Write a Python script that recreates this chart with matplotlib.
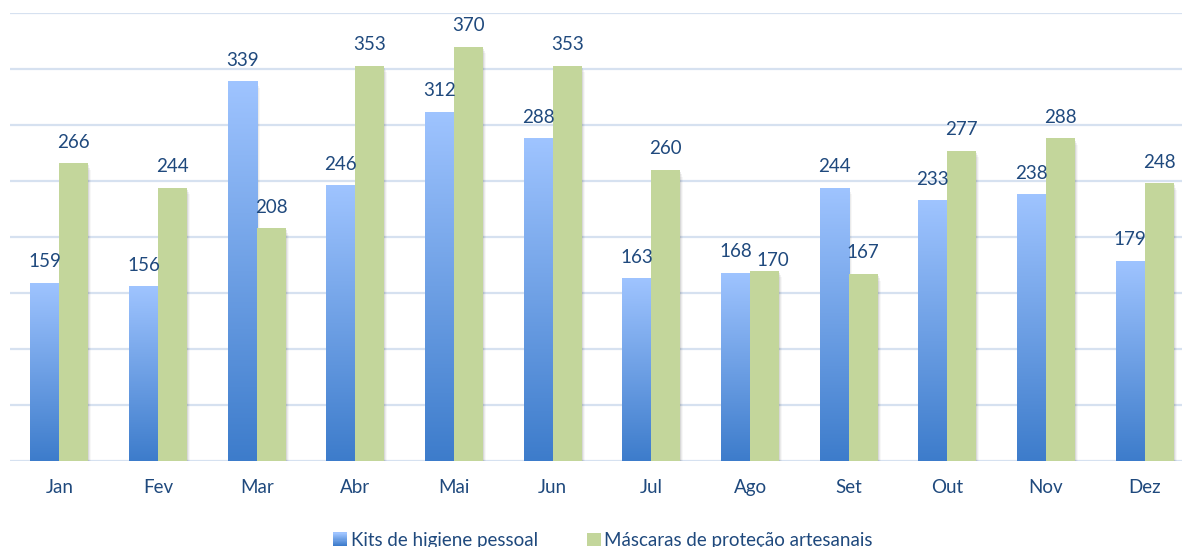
import numpy as np
import matplotlib
matplotlib.use("Agg")
import matplotlib.pyplot as plt
from matplotlib.patches import Rectangle
from matplotlib.legend_handler import HandlerBase
from matplotlib.colors import LinearSegmentedColormap

months = ["Jan", "Fev", "Mar", "Abr", "Mai", "Jun", "Jul", "Ago", "Set", "Out", "Nov", "Dez"]
kits = [159, 156, 339, 246, 312, 288, 163, 168, 244, 233, 238, 179]
mascaras = [266, 244, 208, 353, 370, 353, 260, 170, 167, 277, 288, 248]
series_names = ["Kits de higiene pessoal", "Máscaras de proteção artesanais"]

BLUE_TOP = "#9fc4ff"
BLUE_BOTTOM = "#3d7ccb"
GREEN = "#c3d69b"
TEXT = "#1f497d"
GRID = "#d6e1f0"

plt.rcParams["font.family"] = ["Lato", "DejaVu Sans"]

fig = plt.figure(figsize=(11.82, 5.47), dpi=100)
W, H = 1182, 547
ax = fig.add_axes([10 / W, (H - 461) / H, 1184 / W, 448 / H])

x = np.arange(len(months))
bw = 0.294
blue_cmap = LinearSegmentedColormap.from_list("kits", [BLUE_BOTTOM, BLUE_TOP])
grad = np.linspace(0, 1, 256).reshape(-1, 1)


def draw_shadow(xc, h):
    # soft shadow to the right and below each bar
    for i, a in enumerate([0.08, 0.05, 0.03]):
        d = 0.01 * (i + 1)
        ax.add_patch(Rectangle((xc - bw / 2 + d, -2.0 * (i + 1)), bw, h,
                               facecolor="#000000", alpha=a, edgecolor="none",
                               zorder=1.5))


for xi, v in zip(x, kits):
    draw_shadow(xi - bw / 2, v)
for xi, v in zip(x, mascaras):
    draw_shadow(xi + bw / 2, v)

# Blue bars: vertical gradient inside each bar
blue_bars = ax.bar(x - bw / 2, kits, bw, color="none", edgecolor="none", zorder=2)
for rect in blue_bars:
    x0, w, h = rect.get_x(), rect.get_width(), rect.get_height()
    im = ax.imshow(grad, cmap=blue_cmap, origin="lower", aspect="auto",
                   extent=(x0, x0 + w, 0, h), zorder=2)
    im.set_clip_path(rect)

green_bars = ax.bar(x + bw / 2, mascaras, bw, color=GREEN, edgecolor="none", zorder=2)

# value labels; the August mask label is nudged so it clears its neighbour
nudge_green = {7: (6, 1)}
for i, (xi, v) in enumerate(zip(x, kits)):
    ax.annotate(str(v), (xi - bw / 2, v), xytext=(0, 9), textcoords="offset points",
                ha="center", va="bottom", fontsize=13.5, color=TEXT, zorder=4)
for i, (xi, v) in enumerate(zip(x, mascaras)):
    dx, dy = nudge_green.get(i, (0, 9))
    ax.annotate(str(v), (xi + bw / 2, v), xytext=(dx, dy), textcoords="offset points",
                ha="center", va="bottom", fontsize=13.5, color=TEXT, zorder=4)

ax.set_xlim(-0.5, len(months) - 0.5)
ax.set_ylim(0, 400)
ax.set_yticks(np.arange(0, 401, 50))
ax.yaxis.grid(True, color=GRID, linewidth=1.6)
ax.set_axisbelow(True)
ax.tick_params(axis="y", left=False, labelleft=False)
ax.set_xticks(x)
ax.set_xticklabels(months, fontsize=13.5, color=TEXT)
ax.tick_params(axis="x", length=0, pad=13)
for s in ax.spines.values():
    s.set_visible(False)
ax.set_xlim(-0.5, len(months) - 0.5)


class GradientHandler(HandlerBase):
    def create_artists(self, legend, orig_handle, xdescent, ydescent, width, height,
                       fontsize, trans):
        n = 12
        arts = []
        side = min(width, height)
        x0 = xdescent * -1 + (width - side)
        for i in range(n):
            c = blue_cmap(i / (n - 1))
            r = Rectangle((x0, -ydescent + side * i / n), side, side / n + 0.3,
                          facecolor=c, edgecolor="none", transform=trans)
            arts.append(r)
        return arts


class SquareHandler(HandlerBase):
    def create_artists(self, legend, orig_handle, xdescent, ydescent, width, height,
                       fontsize, trans):
        side = min(width, height)
        x0 = xdescent * -1 + (width - side)
        return [Rectangle((x0, -ydescent), side, side, facecolor=GREEN,
                          edgecolor="none", transform=trans)]


h_blue = Rectangle((0, 0), 1, 1)
h_green = Rectangle((0, 0), 1, 1, facecolor=GREEN)
fig.legend([h_blue, h_green], series_names, loc="center",
           bbox_to_anchor=(0.510, 0.012), ncol=2, frameon=False,
           fontsize=13.5, labelcolor=TEXT, handlelength=0.75, handleheight=0.75,
           handletextpad=0.2, columnspacing=2.6,
           handler_map={h_blue: GradientHandler(), h_green: SquareHandler()})

fig.savefig("out.png", dpi=100)
